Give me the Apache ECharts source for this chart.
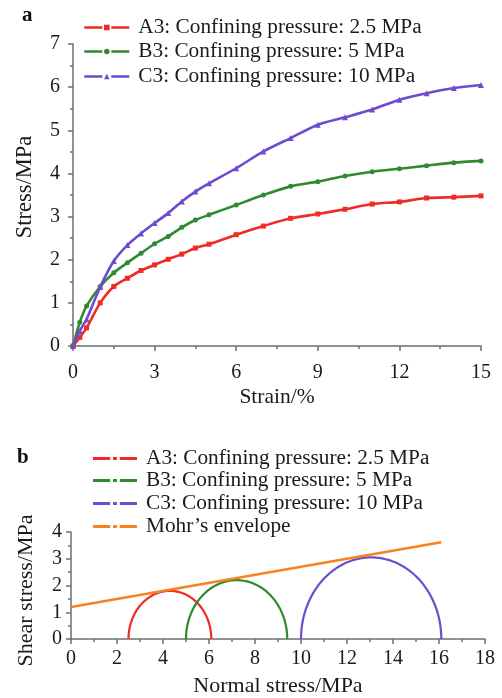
<!DOCTYPE html>
<html>
<head>
<meta charset="utf-8">
<script src="https://cdn.jsdelivr.net/npm/echarts@6/dist/echarts.min.js"></script>
<style>html,body{margin:0;padding:0;background:#fff;}#c{width:502px;height:698px;}</style>
</head>
<body>
<div id="c"></div>
<script>
// ---- Panel a: stress-strain ----
var strain = [0, 0.25, 0.5, 1, 1.5, 2, 2.5, 3, 3.5, 4, 4.5, 5, 6, 7, 8, 9, 10, 11, 12, 13, 14, 15];
var stressA3 = [0, 0.2, 0.42, 1.0, 1.38, 1.57, 1.75, 1.88, 2.01, 2.13, 2.27, 2.36, 2.58, 2.78, 2.96, 3.06, 3.17, 3.29, 3.34, 3.43, 3.45, 3.48];
var stressB3 = [0, 0.55, 0.93, 1.38, 1.70, 1.93, 2.15, 2.37, 2.54, 2.75, 2.92, 3.04, 3.27, 3.50, 3.70, 3.81, 3.94, 4.04, 4.11, 4.18, 4.25, 4.29];
var stressC3 = [0, 0.35, 0.62, 1.37, 1.97, 2.34, 2.61, 2.85, 3.08, 3.35, 3.58, 3.77, 4.12, 4.51, 4.82, 5.13, 5.30, 5.48, 5.71, 5.86, 5.98, 6.05];
var namesA = ['A3: Confining pressure: 2.5 MPa', 'B3: Confining pressure: 5 MPa', 'C3: Confining pressure: 10 MPa'];
var strainTicks = [0, 3, 6, 9, 12, 15];
var stressTicks = [0, 1, 2, 3, 4, 5, 6, 7];

// ---- Panel b: Mohr circles (principal stresses sigma3, sigma1) ----
var sigma3 = [2.5, 5.0, 10.0];
var sigma1 = [6.1, 9.4, 16.1];
var envelopeX = [0, 16.1];
var envelopeY = [1.2, 3.62];
var namesB = ['A3: Confining pressure: 2.5 MPa', 'B3: Confining pressure: 5 MPa', 'C3: Confining pressure: 10 MPa', 'Mohr\u2019s envelope'];
var normalTicks = [0, 2, 4, 6, 8, 10, 12, 14, 16, 18];
var shearTicks = [0, 1, 2, 3, 4];

var colors = ['#ee2b25', '#2f8a2f', '#6f4bd0', '#f7821f'];
var FONT = 'Liberation Serif';
var FS = 20;

function pair(xs, ys) { return xs.map(function (x, i) { return [x, ys[i]]; }); }

var chart = echarts.init(document.getElementById('c'), null, {renderer: 'canvas'});

var axisLineStyle = {color: '#6e6e6e', width: 1.5};
function makeAxis(gridIndex, opt) {
  return Object.assign({
    gridIndex: gridIndex,
    type: 'value',
    axisLine: {show: true, onZero: false, lineStyle: axisLineStyle},
    axisTick: {show: true, inside: false, length: 5, lineStyle: axisLineStyle},
    minorTick: {show: true, splitNumber: 2, length: 3, lineStyle: axisLineStyle},
    splitLine: {show: false},
    nameLocation: 'middle'
  }, opt);
}
function lbl(margin) { return {color: '#1a1a1a', fontFamily: FONT, fontSize: FS, margin: margin}; }
function nm(size, pad) { return {color: '#1a1a1a', fontFamily: FONT, fontSize: size, padding: pad}; }

var symbols = ['rect', 'circle', 'triangle'];
var symSizes = [5, 5, 6];
var stressSets = [stressA3, stressB3, stressC3];

var series = [];
for (var i = 0; i < 3; i++) {
  series.push({
    name: namesA[i],
    type: 'line',
    xAxisIndex: 0, yAxisIndex: 0,
    data: pair(strain, stressSets[i]),
    smooth: 0.25,
    symbol: symbols[i],
    symbolSize: symSizes[i],
    showSymbol: true,
    color: colors[i],
    lineStyle: {width: 2.6, color: colors[i]},
    itemStyle: {color: colors[i]},
    z: 3 + i
  });
}

function mohrRender(params, api) {
  var s3 = api.value(0), s1 = api.value(1);
  var c = (s1 + s3) / 2, r = (s1 - s3) / 2;
  var pts = [];
  var N = 90;
  for (var k = 0; k <= N; k++) {
    var t = Math.PI * k / N;
    pts.push(api.coord([c - r * Math.cos(t), r * Math.sin(t)]));
  }
  return {
    type: 'polyline',
    shape: {points: pts},
    style: {stroke: api.visual('color'), lineWidth: 2.2, fill: null}
  };
}

for (var j = 0; j < 3; j++) {
  series.push({
    name: namesB[j],
    type: 'custom',
    xAxisIndex: 1, yAxisIndex: 1,
    renderItem: mohrRender,
    data: [[sigma3[j], sigma1[j]]],
    color: colors[j],
    itemStyle: {color: colors[j]},
    z: 3
  });
}
series.push({
  name: namesB[3],
  type: 'line',
  xAxisIndex: 1, yAxisIndex: 1,
  data: pair(envelopeX, envelopeY),
  symbol: 'none',
  color: colors[3],
  lineStyle: {width: 2.5, color: colors[3]},
  itemStyle: {color: colors[3]},
  z: 5
});

var LFS = 21.3;
var legends = [];
var rowA = [17, 41, 66];
for (var a = 0; a < 3; a++) {
  legends.push({
    data: [namesA[a]],
    left: 83, top: rowA[a],
    itemWidth: 45, itemHeight: 7,
    itemGap: 0, padding: 0,
    selectedMode: false,
    lineStyle: {type: [18, 9, 18], width: 2.6},
    textStyle: {fontFamily: FONT, fontSize: LFS, color: '#1a1a1a', padding: [0, 0, 0, 4]}
  });
}
var rowB = [448, 470, 493, 516];
var dashIcon = 'path://M0,0h18v3h-18z M21,0h4v3h-4z M28,0h18v3h-18z';
for (var b = 0; b < 4; b++) {
  legends.push({
    data: [{name: namesB[b], icon: dashIcon}],
    left: 93, top: rowB[b],
    itemWidth: 44, itemHeight: 3,
    itemGap: 0, padding: 0,
    selectedMode: false,
    textStyle: {fontFamily: FONT, fontSize: LFS, color: '#1a1a1a', padding: [0, 0, 0, 4]}
  });
}

chart.setOption({
  animation: false,
  backgroundColor: '#ffffff',
  grid: [
    {left: 73, top: 44, width: 408, height: 302},
    {left: 71, top: 532, width: 414, height: 110}
  ],
  xAxis: [
    makeAxis(0, {min: strainTicks[0], max: strainTicks[strainTicks.length - 1], interval: strainTicks[1] - strainTicks[0],
      name: 'Strain/%', nameGap: 40, axisLabel: lbl(17), nameTextStyle: nm(21.5)}),
    makeAxis(1, {min: normalTicks[0], max: normalTicks[normalTicks.length - 1], interval: normalTicks[1] - normalTicks[0],
      name: 'Normal stress/MPa', nameGap: 36, axisLabel: lbl(10), nameTextStyle: nm(22)})
  ],
  yAxis: [
    makeAxis(0, {min: stressTicks[0], max: stressTicks[stressTicks.length - 1], interval: stressTicks[1] - stressTicks[0],
      name: 'Stress/MPa', nameGap: 36, axisLabel: lbl(13), nameTextStyle: nm(22.5, [0, 0, 0, 16])}),
    makeAxis(1, {min: shearTicks[0], max: shearTicks[shearTicks.length - 1], interval: shearTicks[1] - shearTicks[0],
      name: 'Shear stress/MPa', nameGap: 34, axisLabel: lbl(9), nameTextStyle: nm(22, [0, 10, 0, 0])})
  ],
  legend: legends,
  graphic: [
    {type: 'text', left: 22, top: 5, style: {text: 'a', fontFamily: FONT, fontSize: 21, fontWeight: 'bold', fill: '#111'}},
    {type: 'text', left: 17, top: 447, style: {text: 'b', fontFamily: FONT, fontSize: 21, fontWeight: 'bold', fill: '#111'}}
  ],
  series: series
});
</script>
</body>
</html>
